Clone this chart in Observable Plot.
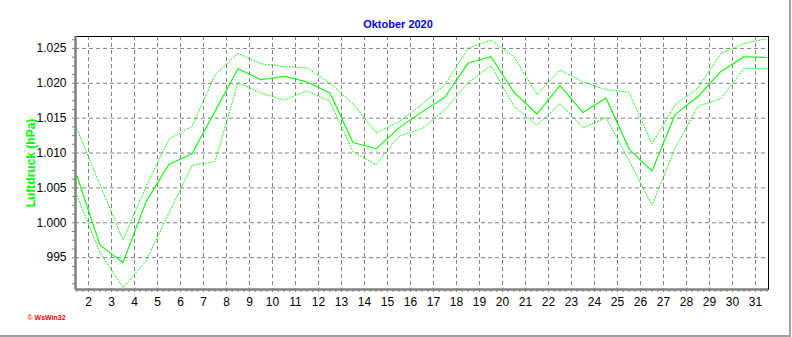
<!DOCTYPE html>
<html><head><meta charset="utf-8">
<script src="https://cdn.jsdelivr.net/npm/d3@7"></script>
<script src="https://cdn.jsdelivr.net/npm/@observablehq/plot@0.6"></script>
<style>
body{margin:0;background:#fff}
#wrap{position:relative;width:792px;height:337px;overflow:hidden;background:#fff}
#border{position:absolute;left:0;top:0;width:789px;height:335px;border-right:2px solid #a0a0a0;border-bottom:2px solid #a0a0a0;pointer-events:none}
</style>
</head><body><div id="wrap"><div id="border"></div></div>
<script>
const title = "Oktober 2020";
const yLabel = "Luftdruck (hPa)";
const credit = "\u00a9 WsWin32";
const days = [1,2,3,4,5,6,7,8,9,10,11,12,13,14,15,16,17,18,19,20,21,22,23,24,25,26,27,28,29,30,31];
const meanP = [1006.7, 996.8, 994.3, 1003.0, 1008.4, 1009.9, 1016.0, 1022.1, 1020.5, 1021.0, 1020.2, 1018.6, 1011.5, 1010.6, 1013.6, 1015.9, 1018.0, 1022.9, 1023.8, 1018.7, 1015.6, 1019.7, 1015.8, 1017.9, 1010.6, 1007.4, 1015.5, 1018.1, 1021.7, 1023.8, 1023.7];
const maxP = [1013.4, 1005.5, 997.5, 1005.2, 1012.0, 1013.8, 1021.2, 1024.3, 1022.8, 1022.4, 1022.2, 1020.0, 1017.1, 1012.9, 1014.5, 1017.0, 1019.8, 1025.0, 1026.2, 1023.8, 1018.4, 1021.9, 1020.2, 1019.1, 1018.7, 1011.3, 1016.9, 1019.3, 1024.3, 1025.7, 1026.4];
const minP = [1003.9, 995.7, 990.7, 994.5, 1001.4, 1008.2, 1008.8, 1020.1, 1018.6, 1017.6, 1018.9, 1017.4, 1010.2, 1008.3, 1012.4, 1013.5, 1016.2, 1020.1, 1022.5, 1016.7, 1014.0, 1017.1, 1013.6, 1015.1, 1008.9, 1002.5, 1010.7, 1016.7, 1017.8, 1022.1, 1022.1];
const xTicks = [2,3,4,5,6,7,8,9,10,11,12,13,14,15,16,17,18,19,20,21,22,23,24,25,26,27,28,29,30,31];
const yTicks = [995, 1000, 1005, 1010, 1015, 1020, 1025];
const xDomain = [1.435, 31.565];
const yDomain = [990.43, 1026.71];

const rows = days.map((d, i) => ({x: d + 0.5, mean: meanP[i], max: maxP[i], min: minP[i]}));
const xMinor = d3.range(1.5, 31.6, 0.25);
const yMinor = d3.range(991.25, 1026.7, 1.25);
const fmtY = v => v >= 1000 ? "1." + String(Math.round(v - 1000)).padStart(3, "0") : String(v);
const green = "#00ff00";
const grid = {stroke: "#808080", strokeOpacity: 1, strokeDasharray: "4,3", strokeWidth: 1};

const chart = Plot.plot({
  width: 792,
  height: 337,
  marginLeft: 75,
  marginRight: 24,
  marginTop: 36,
  marginBottom: 48,
  style: {fontFamily: "Arial, 'Liberation Sans', sans-serif", fontSize: "12px", background: "transparent", color: "black"},
  x: {domain: xDomain, range: [75, 768]},
  y: {domain: yDomain},
  marks: [
    Plot.gridY(yTicks, grid),
    Plot.gridX(xTicks, grid),
    Plot.line(rows, {x: "x", y: "max", stroke: green, strokeWidth: 1, strokeDasharray: "1,2"}),
    Plot.line(rows, {x: "x", y: "min", stroke: green, strokeWidth: 1, strokeDasharray: "1,2"}),
    Plot.line(rows, {x: "x", y: "mean", stroke: green, strokeWidth: 1.1}),
    Plot.frame({stroke: "black", strokeWidth: 1}),
    Plot.ruleX([xDomain[0]], {stroke: "#808080", strokeWidth: 2.5}),
    Plot.ruleY([yDomain[0]], {stroke: "#808080", strokeWidth: 2.5}),
    Plot.axisY(yTicks, {tickSize: 0, tickPadding: 9, tickFormat: fmtY, label: null, fontSize: 12}),
    Plot.axisY(yMinor, {tickSize: 3, tickFormat: () => "", label: null, stroke: "#808080"}),
    Plot.axisX(xTicks, {tickSize: 0, tickPadding: 8, label: null, fontSize: 12}),
    Plot.axisX(xMinor, {tickSize: 3, tickFormat: () => "", label: null, stroke: "#808080"}),
    Plot.text([title], {frameAnchor: "top", dx: -24, dy: -16, fill: "#0000ff", fontWeight: "bold", fontSize: 11}),
    Plot.text([yLabel], {frameAnchor: "left", textAnchor: "middle", rotate: -90, dx: -44, fill: green, fontWeight: "bold", fontSize: 12}),
    Plot.text([credit], {frameAnchor: "bottom-left", textAnchor: "start", dx: -48, dy: 30, fill: "#ff0000", fontWeight: "bold", fontSize: 7})
  ]
});
document.getElementById("wrap").prepend(chart);
</script>
</body></html>
